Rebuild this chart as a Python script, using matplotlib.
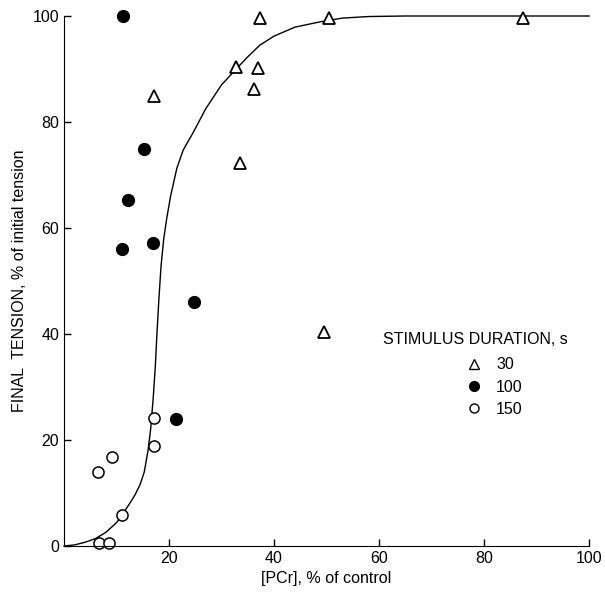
import matplotlib
matplotlib.use("Agg")
import matplotlib.pyplot as plt
from matplotlib.lines import Line2D

plt.rcParams['font.family'] = ['Liberation Sans', 'DejaVu Sans']

# stimulus duration 30 s (open triangles)
x30 = [17.2, 32.8, 37.0, 36.2, 33.6, 37.3, 50.5, 87.5, 49.5]
y30 = [84.9, 90.4, 90.1, 86.2, 72.3, 99.6, 99.7, 99.7, 40.4]

# stimulus duration 100 s (filled circles)
x100 = [11.2, 15.2, 12.2, 11.0, 17.0, 24.8, 21.4]
y100 = [100.0, 74.9, 65.2, 56.0, 57.2, 46.1, 24.0]

# stimulus duration 150 s (open circles)
x150 = [17.2, 17.2, 9.1, 6.5, 11.0, 6.7, 8.6]
y150 = [24.1, 18.9, 16.8, 13.9, 5.8, 0.6, 0.6]

# fitted curve
curve_x = [0, 2, 4, 6, 8, 10, 11, 12.5, 13.5, 14.5, 15.3, 16.0, 16.5, 17.0, 17.4,
           17.7, 18.1, 18.5, 19.0, 19.6, 20.3, 21.5, 22.7, 24.6, 27, 30, 32.8,
           35, 37.3, 40, 44, 48.8, 53, 58, 65, 100]
curve_y = [0, 0.2, 0.7, 1.4, 2.6, 4.4, 5.8, 8.0, 9.6, 11.6, 14.0, 18.0, 22.0, 28.0,
           34.0, 40.0, 47.0, 53.0, 58.0, 62.0, 66.0, 71.3, 74.7, 78, 82.5, 87, 90,
           92.3, 94.5, 96.2, 97.9, 98.9, 99.6, 99.9, 100, 100]

labels = ["30", "100", "150"]

fig = plt.figure(figsize=(6.05, 5.96), dpi=100)
ax = fig.add_axes([64 / 605, 1 - 546 / 596, 525 / 605, 530 / 596])

ax.plot(curve_x, curve_y, color="black", lw=1.0, clip_on=False)
ax.plot(x30, y30, "^", ms=8, mfc="white", mec="black", mew=1.3, ls="none", clip_on=False)
ax.plot(x100, y100, "o", ms=8.5, mfc="black", mec="black", ls="none", clip_on=False)
ax.plot(x150, y150, "o", ms=8, mfc="white", mec="black", mew=1.1, ls="none", clip_on=False)

ax.set_xlim(0, 100)
ax.set_ylim(0, 100)
ax.set_xticks([20, 40, 60, 80, 100])
ax.set_yticks([0, 20, 40, 60, 80, 100])
ax.tick_params(direction="in", length=5, width=1, labelsize=11.5)
for s in ["top", "right"]:
    ax.spines[s].set_visible(False)

ax.set_xlabel("[PCr], % of control", fontsize=11.5)
ax.set_ylabel("FINAL  TENSION, % of initial tension", fontsize=11.5)

# legend
ax.text(0.608, 0.389, "STIMULUS DURATION, s", transform=ax.transAxes,
        fontsize=11.5, va="center", ha="left")
handles = [
    Line2D([], [], marker="^", ms=6.5, mfc="white", mec="black", mew=1.0, ls="none"),
    Line2D([], [], marker="o", ms=7, mfc="black", mec="black", ls="none"),
    Line2D([], [], marker="o", ms=6.5, mfc="white", mec="black", mew=1.0, ls="none"),
]
ax.legend(handles, labels, loc="upper left", bbox_to_anchor=(0.765, 0.356),
          frameon=False, fontsize=11.5, handlelength=1.0, handletextpad=0.9,
          labelspacing=0.45, borderpad=0, borderaxespad=0)

fig.savefig("out.png", dpi=100)
